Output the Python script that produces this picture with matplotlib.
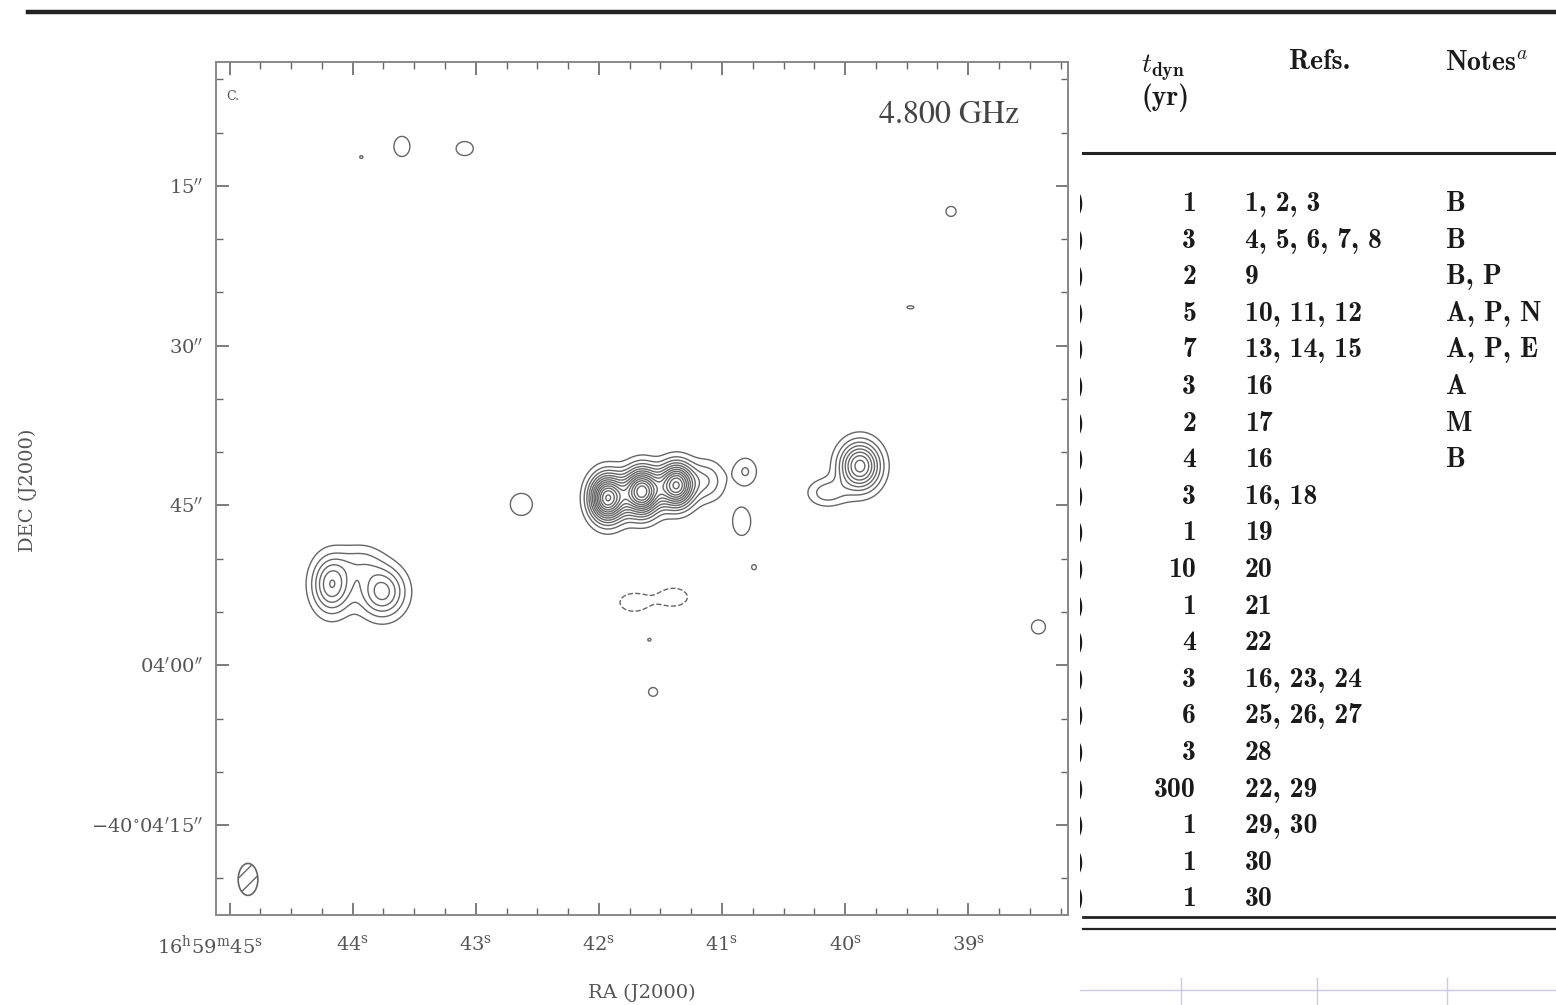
import numpy as np
import matplotlib.pyplot as plt
from matplotlib.patches import Ellipse
from matplotlib.ticker import FixedLocator, MultipleLocator
from matplotlib.transforms import ScaledTranslation

W, H = 1556, 1005

# ---------- map data (RA = seconds of 16h59m, Dec = arcsec below -40d03m00s) ----------
comp_ra   = [41.93, 41.65, 41.37, 41.12,
             39.88, 40.15,
             44.17, 43.76, 43.93,
             43.60, 43.09, 43.93, 39.14, 39.47, 42.63, 40.81, 40.84,
             40.74, 38.43, 41.56, 41.59,
             41.72, 41.39]
comp_dec  = [44.3, 43.7, 43.1, 42.7,
             41.3, 43.8,
             52.4, 53.1, 50.3,
             11.3, 11.5, 12.3, 17.4, 26.4, 44.9, 41.8, 46.5,
             50.8, 56.4, 62.5, 57.6,
             54.1, 53.6]
comp_amp  = [13.0, 13.5, 12.0, 2.8,
             8.5, 2.6,
             6.0, 5.5, 2.0,
             1.4, 1.4, 1.06, 1.4, 1.12, 1.4, 2.1, 1.4,
             1.1, 1.4, 1.4, 1.06,
             -1.5, -1.5]
comp_sra  = [0.098, 0.098, 0.095, 0.10,
             0.115, 0.11,
             0.11, 0.13, 0.12,
             0.079, 0.085, 0.04, 0.05, 0.06, 0.109, 0.073, 0.089,
             0.04, 0.069, 0.045, 0.04,
             0.12, 0.12]
comp_sdec = [1.5, 1.5, 1.4, 1.35,
             1.55, 0.9,
             1.85, 1.65, 1.2,
             1.15, 0.8, 0.4, 0.57, 0.3, 1.26, 1.0, 1.6,
             0.5, 0.8, 0.5, 0.4,
             0.9, 0.9]

pos_levels = [1, 2, 3, 4, 5, 6, 7, 8, 9, 10, 11, 12, 13]
neg_levels = [-1]

beam_ra, beam_dec, beam_w, beam_h = 44.85, 80.1, 0.16, 3.0

ra_major = [45, 44, 43, 42, 41, 40, 39]
ra_labels = [r"$16^{\rm h}59^{\rm m}45^{\rm s}$", r"$44^{\rm s}$", r"$43^{\rm s}$",
             r"$42^{\rm s}$", r"$41^{\rm s}$", r"$40^{\rm s}$", r"$39^{\rm s}$"]
dec_major = [15, 30, 45, 60, 75]
dec_labels = [r"$15^{\prime\prime}$", r"$30^{\prime\prime}$", r"$45^{\prime\prime}$",
              r"$04^{\prime}00^{\prime\prime}$", r"$-40^{\circ}04^{\prime}15^{\prime\prime}$"]

# ---------- table data ----------
t_dyn = ["1", "3", "2", "5", "7", "3", "2", "4", "3", "1",
         "10", "1", "4", "3", "6", "3", "300", "1", "1", "1"]
refs = ["1, 2, 3", "4, 5, 6, 7, 8", "9", "10, 11, 12", "13, 14, 15", "16", "17",
        "16", "16, 18", "19", "20", "21", "22", "16, 23, 24", "25, 26, 27", "28",
        "22, 29", "29, 30", "30", "30"]
notes = ["B", "B", "B, P", "A, P, N", "A, P, E", "A", "M", "B"] + [""] * 12

fig = plt.figure(figsize=(W / 100, H / 100), dpi=100)
grey = "#666666"
lab_kw = dict(family="DejaVu Serif", color="#555555")

# ---------- contour map ----------
ax = fig.add_axes([216 / W, (H - 915) / H, 852 / W, 853 / H])
xs = np.linspace(38.1, 45.2, 900)
ys = np.linspace(3.0, 84.0, 900)
X, Y = np.meshgrid(xs, ys)
Z = np.zeros_like(X)
for x0, y0, a, sx, sy in zip(comp_ra, comp_dec, comp_amp, comp_sra, comp_sdec):
    Z += a * np.exp(-0.5 * ((X - x0) / sx) ** 2 - 0.5 * ((Y - y0) / sy) ** 2)

ax.contour(X, Y, Z, levels=pos_levels, colors=grey, linewidths=1.0)
ax.contour(X, Y, Z, levels=neg_levels, colors=grey, linewidths=1.0,
           linestyles="dashed")

beam = Ellipse((beam_ra, beam_dec), beam_w, beam_h, fill=False,
               edgecolor=grey, lw=1.2, hatch="//")
ax.add_patch(beam)

ax.set_xlim(45.11, 38.19)
ax.set_ylim(83.44, 3.375)
ax.xaxis.set_major_locator(FixedLocator(ra_major))
ax.xaxis.set_minor_locator(MultipleLocator(0.25))
ax.yaxis.set_major_locator(FixedLocator(dec_major))
ax.yaxis.set_minor_locator(MultipleLocator(5))
ax.set_xticklabels(ra_labels)
ax.set_yticklabels(dec_labels)
ax.tick_params(which="both", direction="in", top=True, right=True, color=grey)
ax.tick_params(which="major", length=9, width=1.2)
ax.tick_params(which="minor", length=5, width=1.0)
ax.tick_params(axis="x", pad=14, labelsize=14, labelcolor="#555555")
ax.tick_params(axis="y", pad=9, labelsize=14, labelcolor="#555555")
for lab in ax.get_xticklabels() + ax.get_yticklabels():
    lab.set_math_fontfamily("dejavuserif")
# first RA label sits left of its tick, so that "45s" falls under the tick
first = ax.get_xticklabels()[0]
first.set_horizontalalignment("right")
first.set_transform(first.get_transform() + ScaledTranslation(0.33, 0, fig.dpi_scale_trans))
for sp in ax.spines.values():
    sp.set_color("#888888")
    sp.set_linewidth(1.4)

ax.text(0.012, 0.955, "C.", transform=ax.transAxes, fontsize=9, **lab_kw)
ax.text(0.943, 0.938, "4.800 GHz", transform=ax.transAxes, fontsize=23,
        family="STIXGeneral", color="#444444", ha="right", va="center")

fig.text(642 / W, 1 - 993 / H, "RA (J2000)", fontsize=14,
         ha="center", va="center", **lab_kw)
fig.text(28 / W, 1 - 490 / H, "DEC (J2000)", fontsize=14,
         ha="center", va="center", rotation=90, **lab_kw)

# ---------- page rule ----------
ov = fig.add_axes([0, 0, 1, 1])
ov.set_xlim(0, W)
ov.set_ylim(H, 0)
ov.axis("off")
ov.plot([28, W], [12, 12], color="#222222", lw=3.2)

# ---------- table ----------
tb = fig.add_axes([1080 / W, 0, 476 / W, 1])
tb.set_xlim(1080, W)
tb.set_ylim(H, 0)
tb.axis("off")

kw = dict(fontsize=20, color="#1a1a1a")
tkw = dict(family="cmb10", **kw)
tb.text(1163, 68, r"$t_{\mathbf{dyn}}$", ha="center", va="center",
        math_fontfamily="cm", **kw)
tb.text(1165, 98, "(yr)", ha="center", va="center", **tkw)
tb.text(1320, 62, "Refs.", ha="center", va="center", **tkw)
tb.text(1445, 62, r"$\mathbf{Notes}^{a}$", ha="left", va="center",
        math_fontfamily="cm", **kw)

tb.plot([1083, W], [153, 153], color="#222222", lw=2.2)
tb.plot([1083, W], [917, 917], color="#222222", lw=2.0)
tb.plot([1083, W], [929, 929], color="#222222", lw=1.6)

row_y0, row_dy = 202, 36.6
for i, (t, r, n) in enumerate(zip(t_dyn, refs, notes)):
    y = row_y0 + i * row_dy + 9
    tb.text(1196, y, t, ha="right", va="baseline", **tkw)
    tb.text(1245, y, r, ha="left", va="baseline", **tkw)
    if n:
        tb.text(1446, y, n, ha="left", va="baseline", **tkw)
    # right edge of the cut-off previous column
    tb.text(1084, y, ")", ha="right", va="baseline", clip_on=True, **tkw)

lav = "#c8c8f2"
tb.plot([1080, W], [990, 990], color=lav, lw=1.0)
for xv in [1181, 1317, 1447]:
    tb.plot([xv, xv], [978, H], color=lav, lw=1.0)

fig.savefig("out.png", dpi=100, facecolor="white")
